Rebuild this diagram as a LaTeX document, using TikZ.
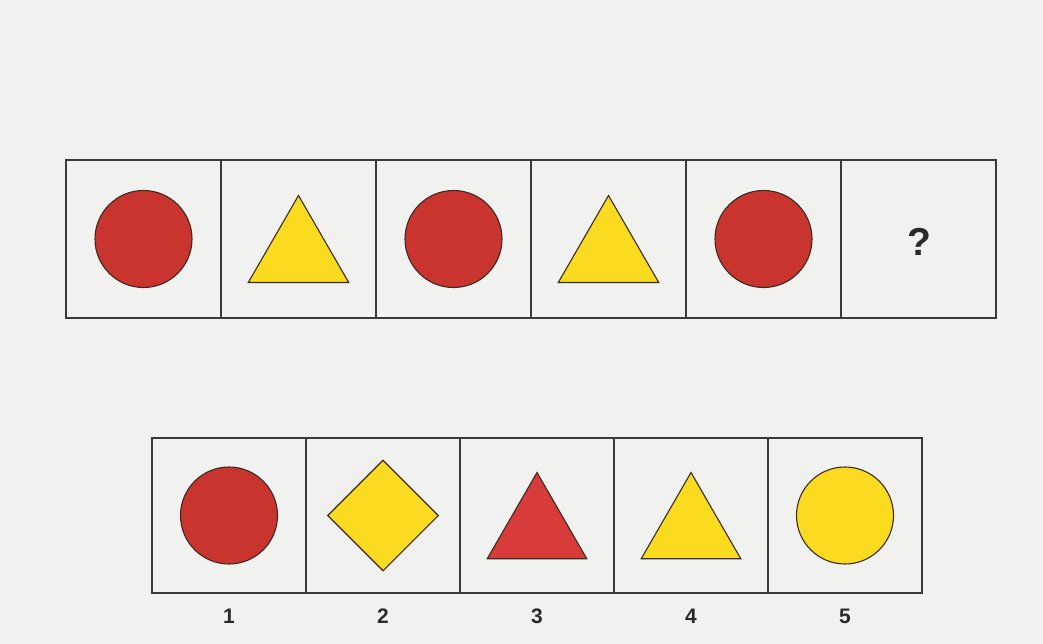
\documentclass[tikz,border=0pt]{standalone}
\usepackage{fontspec}
\setmainfont{Liberation Sans}
\usetikzlibrary{shapes.geometric}
\definecolor{bgcol}{HTML}{F1F1F0}
\definecolor{framecol}{HTML}{3A3A3A}
\definecolor{redc}{HTML}{C9342F}
\definecolor{redt}{HTML}{D73B3A}
\definecolor{yelc}{HTML}{FBDB1F}
\definecolor{edgec}{HTML}{3B2B22}
\definecolor{textc}{HTML}{2A2A2A}
\tikzset{
  topcell/.style={draw=framecol, line width=1.6pt, minimum width=155pt, minimum height=158pt, inner sep=0pt, outer sep=0pt},
  botcell/.style={draw=framecol, line width=1.6pt, minimum width=154pt, minimum height=155pt, inner sep=0pt, outer sep=0pt},
  redcirc/.style={circle, fill=redc, draw=edgec, line width=1.1pt, minimum size=97pt, inner sep=0pt},
  yelcirc/.style={circle, fill=yelc, draw=edgec, line width=1.1pt, minimum size=97pt, inner sep=0pt},
  yeltri/.style={regular polygon, regular polygon sides=3, fill=yelc, draw=edgec, line width=1.1pt, minimum size=116pt, inner sep=0pt},
  redtri/.style={regular polygon, regular polygon sides=3, fill=redt, draw=edgec, line width=1.1pt, minimum size=115pt, inner sep=0pt},
  yeldiam/.style={diamond, fill=yelc, draw=edgec, line width=1.1pt, minimum width=111pt, minimum height=111pt, inner sep=0pt},
  numlabel/.style={anchor=base, text=textc, font=\fontsize{21}{25}\selectfont\bfseries, inner sep=0pt},
  qlabel/.style={anchor=base, text=textc, font=\fontsize{39}{44}\selectfont\bfseries, inner sep=0pt}
}
\begin{document}
\begin{tikzpicture}[x=1pt,y=-1pt]
\fill[bgcol] (0,0) rectangle (1043,644);
\useasboundingbox (0,0) rectangle (1043,644);
% top row
\node[topcell] (t1) at (143.5,239) {};
\node[topcell] (t2) at (298.5,239) {};
\node[topcell] (t3) at (453.5,239) {};
\node[topcell] (t4) at (608.5,239) {};
\node[topcell] (t5) at (763.5,239) {};
\node[topcell] (t6) at (918.5,239) {};
\node[redcirc] (s1) at (t1.center) {};
\node[yeltri] (s2) at ([yshift=-14.5pt]t2.center) {};
\node[redcirc] (s3) at (t3.center) {};
\node[yeltri] (s4) at ([yshift=-14.5pt]t4.center) {};
\node[redcirc] (s5) at (t5.center) {};
\node[qlabel] (q) at ([xshift=1pt,yshift=-16pt]t6.center) {?};
% bottom row
\node[botcell] (b1) at (229,515.5) {};
\node[botcell] (b2) at (383,515.5) {};
\node[botcell] (b3) at (537,515.5) {};
\node[botcell] (b4) at (691,515.5) {};
\node[botcell] (b5) at (845,515.5) {};
\node[redcirc] (o1) at (b1.center) {};
\node[yeldiam] (o2) at (b2.center) {};
\node[redtri] (o3) at ([yshift=-14.5pt]b3.center) {};
\node[yeltri, minimum size=115pt] (o4) at ([yshift=-14.5pt]b4.center) {};
\node[yelcirc] (o5) at (b5.center) {};
% labels
\node[numlabel] (l1) at ([yshift=-30pt]b1.south) {1};
\node[numlabel] (l2) at ([yshift=-30pt]b2.south) {2};
\node[numlabel] (l3) at ([yshift=-30pt]b3.south) {3};
\node[numlabel] (l4) at ([yshift=-30pt]b4.south) {4};
\node[numlabel] (l5) at ([yshift=-30pt]b5.south) {5};
\end{tikzpicture}
\end{document}
